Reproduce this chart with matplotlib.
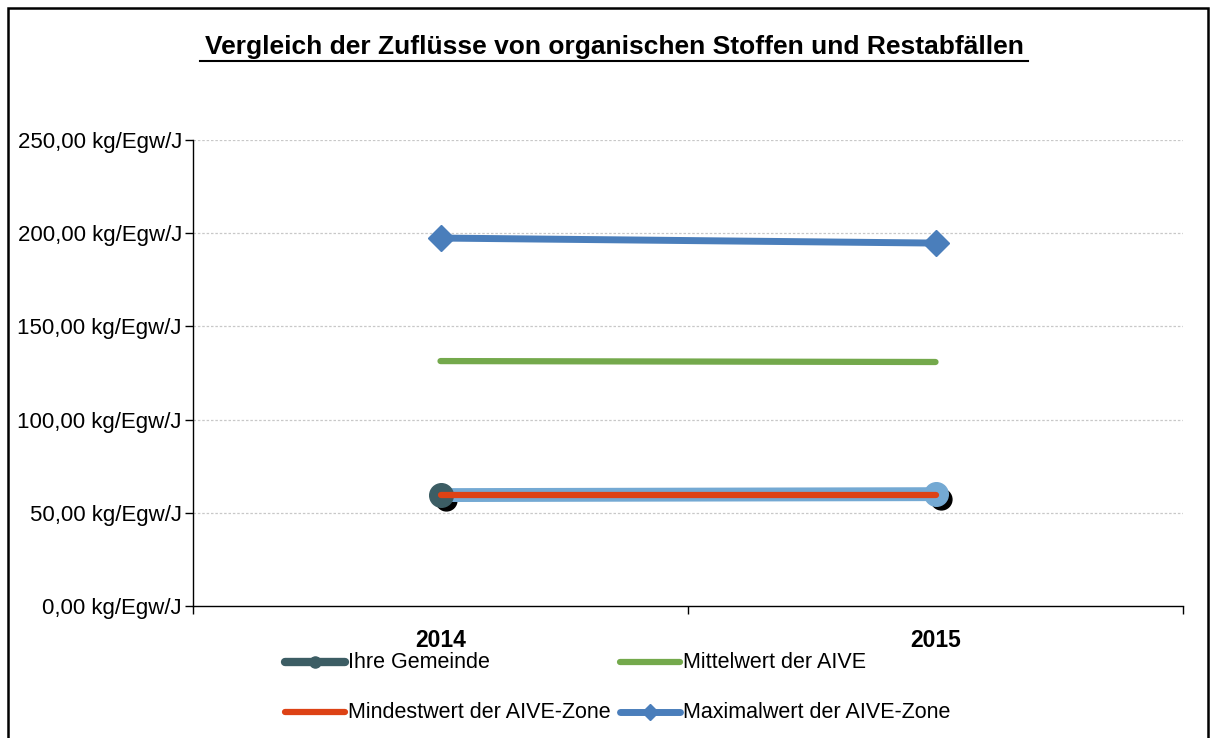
import matplotlib.pyplot as plt
import matplotlib.transforms as mtransforms
from matplotlib.lines import Line2D
import numpy as np

plt.rcParams['font.family'] = ['Liberation Sans', 'DejaVu Sans']

years = ["2014", "2015"]
ihre_gemeinde = [59.5, 60.0]
mittelwert = [131.4, 130.9]
mindestwert = [59.5, 59.5]
maximalwert = [197.4, 194.7]
yticks = [0, 50, 100, 150, 200, 250]

W, H = 1211, 738
fig = plt.figure(figsize=(W / 100, H / 100), dpi=100)
ax = fig.add_axes([193 / W, 1 - 606 / H, 990 / W, 466 / H])

x = np.arange(len(years))

# grid
for v in yticks[1:]:
    ax.axhline(v, color="#c8c8c8", lw=0.9, ls=(0, (2, 1.5)), zorder=0)

# Ihre Gemeinde: shadow markers, light blue line, coloured markers
shadow = mtransforms.offset_copy(ax.transData, fig=fig, x=5, y=-5, units="dots")
ax.plot(x, ihre_gemeinde, ls="none", marker="o", ms=15, color="black", transform=shadow, zorder=2)
ax.plot(x, ihre_gemeinde, color="#74a9d3", lw=10, solid_capstyle="round", zorder=3)
ax.plot(x[:1], ihre_gemeinde[:1], ls="none", marker="o", ms=17, color="#3c5d64", zorder=4)
ax.plot(x[1:], ihre_gemeinde[1:], ls="none", marker="o", ms=17, color="#74a9d3", zorder=4)
ax.plot(x, mindestwert, color="#dd4215", lw=4.5, solid_capstyle="round", zorder=5)
ax.plot(x, mittelwert, color="#74a94c", lw=4.5, solid_capstyle="round", zorder=3)
ax.plot(x, maximalwert, color="#4a7ebb", lw=5, marker="D", ms=13, zorder=3)

ax.set_xlim(-0.5, 1.5)
ax.set_ylim(0, 250)
ax.set_yticks(yticks)
ax.set_yticklabels(["%d,00 kg/Egw/J" % v for v in yticks], fontsize=16)
ax.set_xticks([-0.5, 0.5, 1.5])
ax.set_xticklabels([])
ax.tick_params(axis="y", length=6, width=1, direction="out", pad=2)
ax.tick_params(axis="x", length=6, width=1, direction="out")
for i, yr in enumerate(years):
    ax.text(x[i], -0.05, yr, transform=ax.get_xaxis_transform(), ha="center", va="top",
            fontsize=16.5, fontweight="bold")

for s in ["top", "right"]:
    ax.spines[s].set_visible(False)
for s in ["left", "bottom"]:
    ax.spines[s].set_color("black")
    ax.spines[s].set_linewidth(1)

fig.text(614 / W, 1 - 47 / H, "Vergleich der Zuflüsse von organischen Stoffen und Restabfällen",
         ha="center", va="center", fontsize=19, fontweight="bold")
# underline for title
fig.add_artist(Line2D([200 / W, 1028 / W], [1 - 61 / H, 1 - 61 / H], color="black", lw=1.5))

# legend, laid out like the original (row-wise, two columns)
legend_items = [
    ("Ihre Gemeinde", "#3c5d64", 6, "o", 285, 662),
    ("Mittelwert der AIVE", "#74a94c", 4.5, None, 620, 662),
    ("Mindestwert der AIVE-Zone", "#dd4215", 4.5, None, 285, 712),
    ("Maximalwert der AIVE-Zone", "#4a7ebb", 5, "D", 620, 712),
]
for label, color, lw, marker, lx, ly in legend_items:
    fy = 1 - ly / H
    fig.add_artist(Line2D([lx / W, (lx + 60) / W], [fy, fy], color=color, lw=lw,
                          solid_capstyle="round"))
    if marker:
        fig.add_artist(Line2D([(lx + 30) / W], [fy], color=color, marker=marker, ms=8, ls="none"))
    fig.text((lx + 63) / W, fy, label, ha="left", va="center", fontsize=15.5)

# outer border
fig.add_artist(plt.Rectangle((8 / W, -0.01), 1200 / W, 1 - 8 / H + 0.01, fill=False,
                             edgecolor="black", lw=1.8, transform=fig.transFigure))

fig.savefig("out.png", dpi=100)
